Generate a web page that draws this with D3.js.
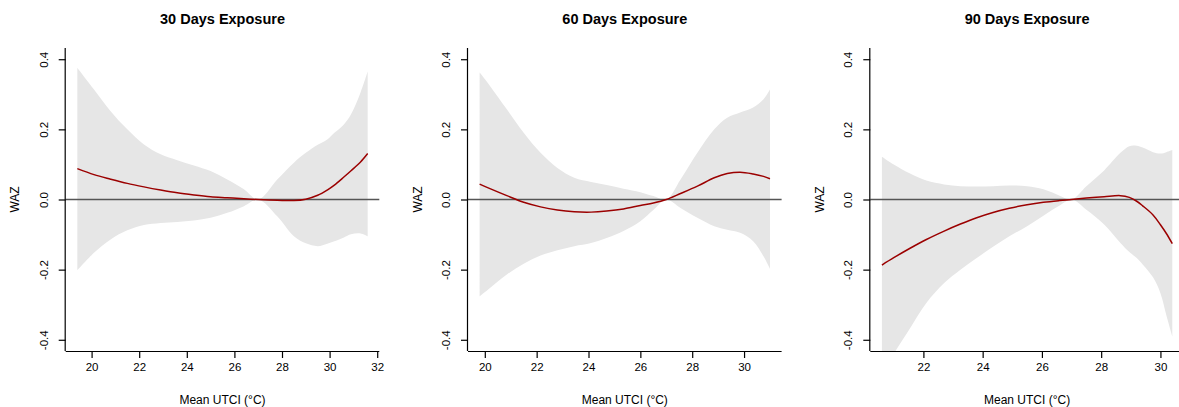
<!DOCTYPE html>
<html>
<head>
<meta charset="utf-8">
<script src="https://cdn.jsdelivr.net/npm/d3@7"></script>
<style>
  html, body { margin: 0; padding: 0; background: #fff; }
  svg text { font-family: "Liberation Sans", Arial, Helvetica, sans-serif; fill: #000; }
</style>
</head>
<body>
<svg id="chart" width="1179" height="407"></svg>
<script>
// ---------- DATA ----------
const titles = ["30 Days Exposure", "60 Days Exposure", "90 Days Exposure"];
const xLabel = "Mean UTCI (°C)";
const yLabel = "WAZ";
const yTicks = [-0.4, -0.2, 0.0, 0.2, 0.4];
const xTicks30 = [20, 22, 24, 26, 28, 30, 32];
const xTicks60 = [20, 22, 24, 26, 28, 30];
const xTicks90 = [22, 24, 26, 28, 30];

// 30 days
const x30   = [19.4, 20.1, 20.8, 21.5, 22.2, 22.9, 23.6, 24.3, 25.0, 25.7, 26.4, 27.0, 27.8, 28.5, 29.0, 29.5, 29.9, 30.2, 30.6, 30.9, 31.3, 31.6];
const fit30 = [0.088, 0.071, 0.058, 0.046, 0.036, 0.027, 0.019, 0.013, 0.008, 0.005, 0.002, 0.0, -0.002, -0.003, 0.001, 0.012, 0.027, 0.041, 0.064, 0.082, 0.107, 0.131];
const lo30  = [-0.202, -0.152, -0.114, -0.088, -0.073, -0.067, -0.064, -0.060, -0.052, -0.038, -0.019, 0.0, -0.048, -0.105, -0.125, -0.133, -0.126, -0.119, -0.108, -0.099, -0.097, -0.105];
const hi30  = [0.376, 0.314, 0.252, 0.200, 0.157, 0.129, 0.112, 0.097, 0.081, 0.057, 0.029, 0.0, 0.057, 0.105, 0.133, 0.156, 0.171, 0.190, 0.214, 0.243, 0.305, 0.365];

// 60 days
const x60   = [19.8, 20.2, 20.85, 21.5, 22.15, 22.8, 23.45, 24.1, 24.7, 25.35, 26.0, 26.5, 27.0, 27.55, 28.2, 28.85, 29.35, 29.85, 30.35, 30.75, 31.0];
const fit60 = [0.044, 0.031, 0.011, -0.008, -0.021, -0.030, -0.035, -0.036, -0.033, -0.027, -0.017, -0.010, 0.0, 0.017, 0.038, 0.062, 0.074, 0.078, 0.073, 0.066, 0.059];
const lo60  = [-0.276, -0.252, -0.214, -0.183, -0.160, -0.145, -0.133, -0.124, -0.110, -0.090, -0.062, -0.030, 0.0, -0.024, -0.052, -0.076, -0.086, -0.095, -0.119, -0.162, -0.198];
const hi60  = [0.362, 0.324, 0.257, 0.190, 0.133, 0.090, 0.062, 0.050, 0.041, 0.031, 0.021, 0.010, 0.0, 0.057, 0.133, 0.200, 0.233, 0.248, 0.262, 0.286, 0.314];

// 90 days
const x90   = [20.6, 21.0, 21.55, 22.1, 22.7, 23.25, 23.8, 24.35, 24.9, 25.5, 26.05, 26.6, 27.0, 27.5, 28.1, 28.65, 28.95, 29.2, 29.4, 29.75, 30.0, 30.2, 30.4];
const fit90 = [-0.187, -0.166, -0.139, -0.114, -0.090, -0.070, -0.052, -0.037, -0.025, -0.015, -0.008, -0.003, 0.0, 0.004, 0.008, 0.011, 0.006, -0.005, -0.018, -0.044, -0.072, -0.097, -0.126];
const lo90  = [-0.50, -0.44, -0.367, -0.295, -0.238, -0.200, -0.167, -0.135, -0.105, -0.076, -0.046, -0.017, 0.0, -0.029, -0.071, -0.124, -0.150, -0.167, -0.185, -0.222, -0.267, -0.330, -0.390];
const hi90  = [0.122, 0.100, 0.074, 0.054, 0.043, 0.038, 0.037, 0.038, 0.040, 0.038, 0.029, 0.011, 0.0, 0.038, 0.083, 0.133, 0.152, 0.153, 0.148, 0.135, 0.131, 0.135, 0.141];

// ---------- LAYOUT ----------
const panels = [
  { title: titles[0], x: x30, fit: fit30, lo: lo30, hi: hi30, ticks: xTicks30 },
  { title: titles[1], x: x60, fit: fit60, lo: lo60, hi: hi60, ticks: xTicks60 },
  { title: titles[2], x: x90, fit: fit90, lo: lo90, hi: hi90, ticks: xTicks90 }
];
const panelStep = 402.3, left0 = 65.7, plotW = 313.6, plotTop = 48, plotBottom = 351;

const svg = d3.select("#chart");
const yPad = 0.8 * 0.04;
const y = d3.scaleLinear().domain([-0.4 - yPad, 0.4 + yPad]).range([plotBottom, plotTop]);

panels.forEach((p, i) => {
  const L = left0 + i * panelStep, R = L + plotW;
  const [xmin, xmax] = d3.extent(p.x);
  const pad = (xmax - xmin) * 0.04;
  const x = d3.scaleLinear().domain([xmin - pad, xmax + pad]).range([L, R]);
  const g = svg.append("g");

  const clipId = "clip" + i;
  svg.append("clipPath").attr("id", clipId)
    .append("rect").attr("x", L).attr("y", plotTop).attr("width", plotW).attr("height", plotBottom - plotTop);

  const pts = p.x.map((xv, k) => ({ x: xv, fit: p.fit[k], lo: p.lo[k], hi: p.hi[k] }));
  const curve = d3.curveCatmullRom.alpha(0.5);

  const area = d3.area().x(d => x(d.x)).y0(d => y(d.lo)).y1(d => y(d.hi)).curve(curve);
  g.append("path").datum(pts).attr("d", area).attr("fill", "#e6e6e6").attr("clip-path", `url(#${clipId})`);

  // zero reference line
  g.append("line").attr("x1", L).attr("x2", R).attr("y1", y(0)).attr("y2", y(0))
    .attr("stroke", "#555").attr("stroke-width", 1.6);

  const line = d3.line().x(d => x(d.x)).y(d => y(d.fit)).curve(curve);
  g.append("path").datum(pts).attr("d", line).attr("fill", "none")
    .attr("stroke", "#9b0000").attr("stroke-width", 1.5).attr("clip-path", `url(#${clipId})`);

  // axes (L-shaped box)
  const xAxis = d3.axisBottom(x).tickValues(p.ticks).tickSize(7).tickPadding(7).tickFormat(d3.format("d"));
  const gx = g.append("g").attr("transform", `translate(0,${plotBottom})`).call(xAxis);
  gx.select(".domain").attr("d", `M${L},0.5H${R}`).attr("stroke", "#000").attr("stroke-width", 1.2);
  gx.selectAll(".tick line").attr("stroke", "#000").attr("stroke-width", 1.2);
  gx.selectAll(".tick text").attr("font-size", 11.5).attr("font-family", "Liberation Sans, Arial, sans-serif").attr("dy", "0.5em");

  const yAxis = d3.axisLeft(y).tickValues(yTicks).tickSize(7).tickFormat(d3.format(".1f"));
  const gy = g.append("g").attr("transform", `translate(${L},0)`).call(yAxis);
  gy.select(".domain").attr("d", `M-0.5,${plotTop}V${plotBottom}`).attr("stroke", "#000").attr("stroke-width", 1.2);
  gy.selectAll(".tick line").attr("stroke", "#000").attr("stroke-width", 1.2);
  gy.selectAll(".tick text")
    .attr("font-size", 11.5).attr("font-family", "Liberation Sans, Arial, sans-serif")
    .attr("x", null).attr("dy", null)
    .attr("text-anchor", "middle")
    .attr("transform", "translate(-18,0) rotate(-90)")
    .text(d => d3.format(".1f")(d).replace("−", "-"));

  // axis titles
  g.append("text").attr("x", (L + R) / 2).attr("y", 404).attr("text-anchor", "middle")
    .attr("font-size", 12).text(xLabel);
  g.append("text").attr("transform", `translate(${L - 46.5},${y(0)}) rotate(-90)`).attr("text-anchor", "middle")
    .attr("font-size", 12).text(yLabel);

  // panel title
  g.append("text").attr("x", (L + R) / 2).attr("y", 24).attr("text-anchor", "middle")
    .attr("font-size", 14.5).attr("font-weight", "bold").text(p.title);
});
</script>
</body>
</html>
